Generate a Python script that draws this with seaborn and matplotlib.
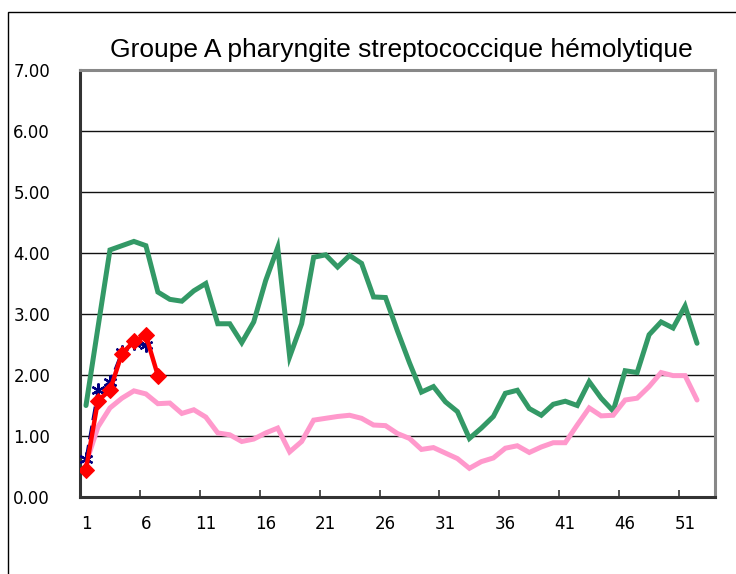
import numpy as np
import pandas as pd
import matplotlib
matplotlib.use("Agg")
import matplotlib.pyplot as plt
from matplotlib.patches import Rectangle
import seaborn as sns

title = "Groupe A pharyngite streptococcique hémolytique"

weeks_all = list(range(1, 53))
green_vals = [1.50, 2.78, 4.05, 4.12, 4.19, 4.12, 3.36, 3.24, 3.21, 3.38, 3.50, 2.84, 2.84,
              2.53, 2.87, 3.55, 4.09, 2.30, 2.84, 3.93, 3.97, 3.77, 3.96, 3.83, 3.28, 3.27,
              2.72, 2.20, 1.72, 1.81, 1.56, 1.40, 0.96, 1.13, 1.32, 1.70, 1.75, 1.45, 1.34,
              1.52, 1.57, 1.50, 1.89, 1.62, 1.41, 2.07, 2.04, 2.66, 2.87, 2.77, 3.13, 2.52]
pink_vals = [0.55, 1.15, 1.46, 1.62, 1.74, 1.69, 1.53, 1.54, 1.37, 1.43, 1.31, 1.05, 1.02,
             0.91, 0.95, 1.05, 1.13, 0.74, 0.91, 1.26, 1.29, 1.32, 1.34, 1.29, 1.18, 1.17,
             1.04, 0.96, 0.78, 0.81, 0.72, 0.63, 0.47, 0.58, 0.64, 0.80, 0.84, 0.73, 0.82,
             0.89, 0.89, 1.18, 1.46, 1.33, 1.34, 1.59, 1.62, 1.81, 2.04, 1.99, 1.99, 1.59]
blue_weeks = [1, 2, 3, 4, 5, 6]
blue_vals = [0.63, 1.75, 1.88, 2.38, 2.52, 2.49]
red_weeks = [1, 2, 3, 4, 5, 6, 7]
red_vals = [0.45, 1.58, 1.75, 2.35, 2.55, 2.65, 1.99]

ytick_vals = [0, 1, 2, 3, 4, 5, 6, 7]
ytick_labels = ["0.00", "1.00", "2.00", "3.00", "4.00", "5.00", "6.00", "7.00"]
xtick_vals = [1, 6, 11, 16, 21, 26, 31, 36, 41, 46, 51]

sns.set_theme(style="white")
plt.rcParams['font.family'] = ['Liberation Sans', 'DejaVu Sans']

W, H = 736, 574
fig = plt.figure(figsize=(W / 100, H / 100), dpi=100)
ax = fig.add_axes([80 / W, 1 - 497 / H, (715 - 80) / W, (497 - 70) / H])

sns.lineplot(x=weeks_all, y=green_vals, ax=ax, color="#339966", lw=3.6,
             solid_joinstyle="miter", zorder=3)
sns.lineplot(x=weeks_all, y=pink_vals, ax=ax, color="#FF99CC", lw=3.6,
             solid_joinstyle="miter", zorder=3)
sns.lineplot(x=blue_weeks, y=blue_vals, ax=ax, color="#000080", lw=2.0,
             linestyle=(0, (5, 2)), marker=(6, 2, 0), markersize=10,
             markeredgewidth=1.6, markeredgecolor="#000080", zorder=4)
sns.lineplot(x=red_weeks, y=red_vals, ax=ax, color="#FF0000", lw=3.2,
             marker="D", markersize=8, markeredgecolor="#FF0000", zorder=5)

ax.set_xlim(0.5, 53.5)
ax.set_ylim(0, 7)
ax.set_xlabel("")
ax.set_ylabel("")

for v in ytick_vals[1:-1]:
    ax.axhline(v, color="#111111", lw=1.0, zorder=1)

tick_font = ["DejaVu Sans"]
ax.set_yticks(ytick_vals)
ax.set_yticklabels(ytick_labels, family=tick_font)
ax.tick_params(axis="y", length=0, pad=48, labelsize=12, labelcolor="#000000")
for t in ax.get_yticklabels():
    t.set_horizontalalignment("left")

ax.set_xticks(xtick_vals)
ax.set_xticklabels([str(v) for v in xtick_vals], family=tick_font)
ax.tick_params(axis="x", which="major", length=0, pad=13, labelsize=12,
               labelcolor="#000000")
ax.set_xticks([0.5 + 5 * k for k in range(1, 11)], minor=True)
ax.tick_params(axis="x", which="minor", direction="in", length=5, width=1.2,
               color="#333333", bottom=True)

for side in ["left", "bottom"]:
    ax.spines[side].set_color("#333333")
    ax.spines[side].set_linewidth(2.2)
for side in ["top", "right"]:
    ax.spines[side].set_color("#888888")
    ax.spines[side].set_linewidth(2.2)
ax.spines["top"].set_visible(True)
ax.spines["right"].set_visible(True)

fig.text(401 / W, 1 - 57 / H, title, ha="center", va="baseline", fontsize=19,
         color="#000000")

fig.patches.append(Rectangle((8 / W, -0.5), 1.5, 1.5 - 12 / H,
                             transform=fig.transFigure, fill=False,
                             edgecolor="#000000", lw=1.0))

fig.savefig("out.png", dpi=100)
